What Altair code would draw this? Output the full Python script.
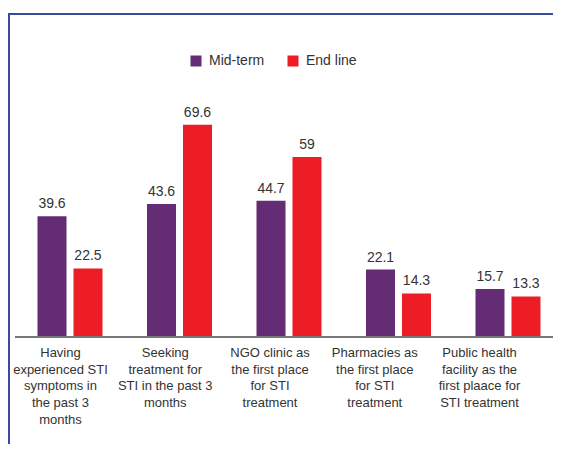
import altair as alt
import pandas as pd

categories = [
    "Having\nexperienced STI\nsymptoms in\nthe past 3\nmonths",
    "Seeking\ntreatment for\nSTI in the past 3\nmonths",
    "NGO clinic as\nthe first place\nfor STI\ntreatment",
    "Pharmacies as\nthe first place\nfor STI\ntreatment",
    "Public health\nfacility as the\nfirst plaace for\nSTI treatment",
]
series = ["Mid-term", "End line"]
mid_term = [39.6, 43.6, 44.7, 22.1, 15.7]
end_line = [22.5, 69.6, 59, 14.3, 13.3]
colors = ["#642c74", "#ec1d25"]

rows = []
for i, c in enumerate(categories):
    rows.append({"cat": c, "series": series[0], "value": mid_term[i]})
    rows.append({"cat": c, "series": series[1], "value": end_line[i]})
df = pd.DataFrame(rows)
cat_df = pd.DataFrame({"cat": categories})
one = pd.DataFrame({"k": [0]})

W, H = 544, 430
x_enc = alt.X("cat:N", sort=categories, axis=None,
              scale=alt.Scale(range=[6.25, 553.75], paddingInner=0, paddingOuter=0))
y_scale = alt.Scale(domain=[0 - (H - 323) / 3.05, 323 / 3.05], nice=False, zero=False)
xoff = alt.XOffset("series:N", sort=series,
                   scale=alt.Scale(paddingInner=0.194, paddingOuter=0.618))

base = alt.Chart(df)

bars = base.mark_bar(size=29).encode(
    x=x_enc,
    xOffset=xoff,
    y=alt.Y("value:Q", scale=y_scale, axis=None),
    y2=alt.datum(0),
    color=alt.Color("series:N", sort=series,
                    scale=alt.Scale(domain=series, range=colors),
                    legend=alt.Legend(title=None, orient="none", direction="horizontal",
                                      legendX=180, legendY=40, symbolType="square",
                                      symbolSize=121, symbolStrokeWidth=0,
                                      labelFontSize=14, labelFont="Liberation Sans",
                                      labelColor="#333333", labelOffset=6,
                                      columnPadding=21, padding=0)),
)

values = base.mark_text(fontSize=14, font="Liberation Sans", color="#333333",
                        baseline="alphabetic", dy=-8).encode(
    x=x_enc,
    xOffset=xoff,
    y=alt.Y("value:Q", scale=y_scale),
    text=alt.Text("value:Q"),
)

axis_line = alt.Chart(one).mark_rule(color="#777777", strokeWidth=2).encode(
    y=alt.datum(0), x=alt.value(6), x2=alt.value(W)
)

frame_top = alt.Chart(one).mark_rule(color="#3a4a9c", strokeWidth=2).encode(
    x=alt.value(0), x2=alt.value(W), y=alt.value(0)
)
frame_left = alt.Chart(one).mark_rule(color="#3a4a9c", strokeWidth=2).encode(
    x=alt.value(0), y=alt.value(-1), y2=alt.value(H)
)

labels = alt.Chart(cat_df).mark_text(fontSize=13, font="Liberation Sans", color="#333333",
                                     baseline="top", lineBreak="\n", lineHeight=16.7,
                                     align="center").encode(
    x=alt.X("cat:N", sort=categories, axis=None,
            scale=alt.Scale(range=[-0.9, 522.9], paddingInner=0, paddingOuter=0)),
    y=alt.value(333),
    text="cat:N",
)

chart = alt.layer(bars, values, axis_line, frame_top, frame_left, labels).resolve_scale(
    x="independent"
).properties(
    width=W, height=H,
    padding={"left": 1, "top": 6, "right": 0, "bottom": 0},
    autosize=alt.AutoSizeParams(type="none"),
).configure(background="white").configure_view(stroke=None)

chart.save("out.html", embed_options={"renderer": "svg", "actions": False})
